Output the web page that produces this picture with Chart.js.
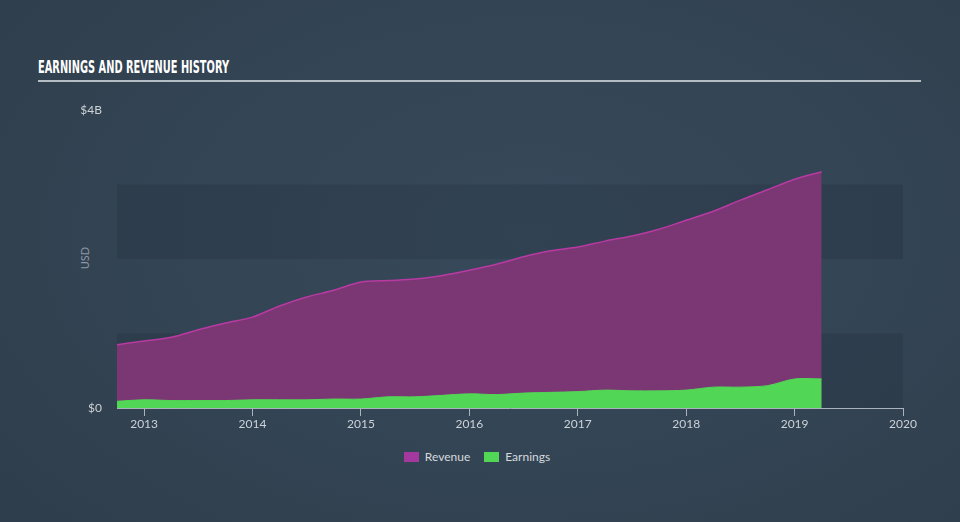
<!DOCTYPE html>
<html>
<head>
<meta charset="utf-8">
<title>Earnings and Revenue History</title>
<script src="https://cdn.jsdelivr.net/npm/chart.js@4.4.1/dist/chart.umd.min.js"></script>
<style>
  html, body { margin: 0; padding: 0; }
  body {
    width: 960px; height: 522px; overflow: hidden; position: relative;
    background: radial-gradient(ellipse 70% 80% at 55% 45%, #37495a 0%, #334454 55%, #2f3e4c 100%);
    font-family: Lato, "Noto Sans", sans-serif;
  }
  #title {
    position: absolute; left: 38px; top: 57px;
    color: #ffffff; font-weight: bold; font-size: 17px; letter-spacing: 0;
    font-family: "Liberation Sans Narrow", "DejaVu Sans Condensed", "Roboto Condensed", sans-serif;
    transform-origin: left top;
  }
  #rule { position: absolute; left: 38px; top: 80px; width: 883px; height: 2px; background: #b4bcc4; }
  #usd {
    position: absolute; left: 84px; top: 258px; color: #8d98a3; font-size: 11px;
    transform: translate(-50%, -50%) rotate(-90deg);
  }
  #legend {
    position: absolute; left: 0; width: 954px; top: 449px;
    display: flex; justify-content: center; gap: 14px; color: #d6dade; font-size: 12px;
  }
  #legend span { display: inline-flex; align-items: center; }
  #legend i { display: inline-block; width: 15px; height: 10px; margin-right: 6px; }
  canvas { position: absolute; left: 0; top: 0; }
</style>
</head>
<body>
<div id="title">EARNINGS AND REVENUE HISTORY</div>
<div id="rule"></div>
<div id="usd">USD</div>
<div id="legend">
  <span><i style="background:#a3399f"></i>Revenue</span>
  <span><i style="background:#52d655"></i>Earnings</span>
</div>
<canvas id="gr1" width="960" height="522"></canvas>
<script>
// quarterly points, fractional years
const quarters = [2012.75, 2013.0, 2013.25, 2013.5, 2013.75, 2014.0, 2014.25, 2014.5, 2014.75,
  2015.0, 2015.25, 2015.5, 2015.75, 2016.0, 2016.25, 2016.5, 2016.75, 2017.0, 2017.25,
  2017.5, 2017.75, 2018.0, 2018.25, 2018.5, 2018.75, 2019.0, 2019.25];
// USD billions
const revenue = [0.85, 0.90, 0.95, 1.05, 1.14, 1.22, 1.37, 1.49, 1.58, 1.69, 1.71, 1.73, 1.78,
  1.85, 1.93, 2.03, 2.11, 2.16, 2.24, 2.31, 2.40, 2.52, 2.64, 2.79, 2.93, 3.07, 3.17];
const earnings = [0.09, 0.11, 0.10, 0.10, 0.10, 0.11, 0.11, 0.11, 0.12, 0.12, 0.15, 0.15, 0.17,
  0.19, 0.18, 0.20, 0.21, 0.22, 0.24, 0.23, 0.23, 0.24, 0.28, 0.28, 0.30, 0.39, 0.39];
const yearTicks = [2013, 2014, 2015, 2016, 2017, 2018, 2019, 2020];
const yLabels = { 0: '$0', 4: '$4B' };

// fit title to its width in the reference
const t = document.getElementById('title');
t.style.transform = 'scaleX(' + (191 / t.getBoundingClientRect().width) + ')';

const bands = {
  id: 'bands',
  beforeDatasetsDraw(chart) {
    const { ctx, chartArea: a, scales: { y } } = chart;
    ctx.save();
    ctx.fillStyle = 'rgba(20,30,42,0.15)';
    [[0, 1], [2, 3]].forEach(([lo, hi]) => {
      const top = y.getPixelForValue(hi), bot = y.getPixelForValue(lo);
      ctx.fillRect(a.left, top, a.right - a.left, bot - top);
    });
    ctx.restore();
  }
};

const toPts = arr => arr.map((v, i) => ({ x: quarters[i], y: v }));

new Chart(document.getElementById('gr1'), {
  type: 'line',
  data: {
    datasets: [
      { label: 'Revenue', data: toPts(revenue), order: 2, fill: 'origin',
        backgroundColor: '#7b3773', borderColor: '#b83aa2', borderWidth: 1.5,
        pointRadius: 0, tension: 0.3 },
      { label: 'Earnings', data: toPts(earnings), order: 1, fill: 'origin',
        backgroundColor: '#52d655', borderColor: '#52d655', borderWidth: 1,
        pointRadius: 0, tension: 0.3 }
    ]
  },
  options: {
    responsive: false,
    animation: false,
    layout: { padding: { left: 0, right: 57, top: 110, bottom: 84 } },
    plugins: { legend: { display: false }, tooltip: { enabled: false } },
    scales: {
      x: {
        type: 'linear', min: 2012.75, max: 2020,
        afterBuildTicks: s => { s.ticks = yearTicks.map(v => ({ value: v })); },
        afterFit: s => { s.height = 30; },
        grid: { drawOnChartArea: false, drawTicks: true, tickLength: 8, color: '#aab3bc', lineWidth: 1 },
        border: { display: true, color: '#aab3bc', width: 1 },
        ticks: { color: '#cdd2d7', padding: 1, maxRotation: 0, autoSkip: false,
          font: { family: 'Lato, "Noto Sans", sans-serif', size: 12 },
          callback: v => String(v) }
      },
      y: {
        min: 0, max: 4,
        afterFit: s => { s.width = 117; },
        grid: { display: false, drawTicks: false },
        border: { display: false },
        ticks: { stepSize: 1, color: '#cdd2d7', padding: 15,
          font: { family: 'Lato, "Noto Sans", sans-serif', size: 12 },
          callback: v => yLabels[v] || '' }
      }
    }
  },
  plugins: [bands]
});
</script>
</body>
</html>
